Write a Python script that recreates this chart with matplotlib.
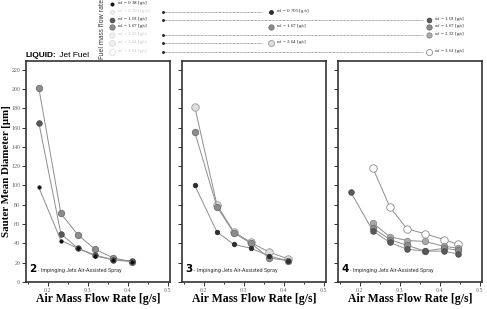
"""Sauter mean diameter vs air mass flow rate, three impinging-jet configurations."""

import numpy as np
import matplotlib

matplotlib.use("Agg")
from matplotlib import pyplot as plt  # noqa: E402
from matplotlib.ticker import MultipleLocator  # noqa: E402

plt.rcParams["mathtext.fontset"] = "stix"

# air mass flow rates [g/s]
x_air = [0.178, 0.233, 0.275, 0.318, 0.363, 0.41]
x_air_4 = [0.178, 0.233, 0.275, 0.318, 0.363, 0.41, 0.445]

# panel "2": SMD [um] per fuel flow rate
p2_m038 = [98, 43, 35, 27, 23, 21]
p2_m103 = [165, 50, 35, 28, 23, 22]
p2_m167 = [201, 71, 49, 34, 25, 21]

# panel "3"
p3_m0705 = [100, 52, 39, 35, 27, 22]
p3_m167 = [155, 78, 51, 40, 25, 22]
p3_m264 = [181, 80, 52, 41, 31, 24]

# panel "4" (nan = not measured)
p4_m103 = [93, 53, 41, 34, 32, 32, 29]
p4_m167 = [np.nan, 56, 44, 38, 32, 35, 33]
p4_m232 = [np.nan, 61, 47, 43, 42, 37, 35]
p4_m361 = [np.nan, 118, 78, 55, 50, 44, 39]

fuel_rates = ["0.38", "0.705", "1.03", "1.67", "2.32", "2.64", "3.61"]
panel_numbers = ["2", "3", "4"]

# marker style per fuel flow rate: face, edge, size
STYLE = {
    "0.38": ("#111111", "#111111", 2.4),
    "0.705": ("#2e2e2e", "#2e2e2e", 3.2),
    "1.03": ("#5a5a5a", "#4a4a4a", 4.0),
    "1.67": ("#8c8c8c", "#6e6e6e", 4.6),
    "2.32": ("#aaaaaa", "#8a8a8a", 4.6),
    "2.64": ("#dedede", "#9a9a9a", 5.4),
    "3.61": ("#ffffff", "#8a8a8a", 5.4),
}
LINE = "#8e8e8e"

panels = [
    (x_air, [("1.67", p2_m167), ("1.03", p2_m103), ("0.38", p2_m038)]),
    (x_air, [("2.64", p3_m264), ("1.67", p3_m167), ("0.705", p3_m0705)]),
    (x_air_4, [("3.61", p4_m361), ("2.32", p4_m232), ("1.67", p4_m167), ("1.03", p4_m103)]),
]

W, H = 487, 309
fig = plt.figure(figsize=(W / 100, H / 100), dpi=100)

lefts = [26, 182, 338]
for i, (left, (xs, series)) in enumerate(zip(lefts, panels)):
    ax = fig.add_axes([left / W, 1 - 282 / H, 144 / W, (282 - 61) / H])
    for rate, ys in series:
        face, edge, ms = STYLE[rate]
        ys = np.array(ys, dtype=float)
        ok = ~np.isnan(ys)
        ax.plot(np.array(xs)[ok], ys[ok], color=LINE, lw=0.7, marker="o",
                ms=ms, mfc=face, mec=edge, mew=0.6, zorder=3)
    ax.set_xlim(0.146, 0.505)
    ax.set_ylim(0, 229)
    ax.xaxis.set_major_locator(MultipleLocator(0.1))
    ax.xaxis.set_minor_locator(MultipleLocator(0.05))
    ax.yaxis.set_major_locator(MultipleLocator(20))
    ax.tick_params(which="both", direction="out", color="#333333", width=0.7,
                   labelsize=4.3, labelcolor="#666666", pad=1.2)
    ax.tick_params(which="major", length=3)
    ax.tick_params(which="minor", length=1.5)
    for lab in ax.get_xticklabels() + ax.get_yticklabels():
        lab.set_fontfamily("Liberation Serif")
    if i > 0:
        ax.tick_params(axis="y", labelleft=False)
    for sp in ax.spines.values():
        sp.set_linewidth(1.2)
        sp.set_color("#333333")
    ax.set_xlabel("Air Mass Flow Rate [g/s]", fontfamily="Liberation Serif",
                  fontweight="bold", fontsize=8.5)
    ax.xaxis.set_label_coords(0.5, -0.05)
    ax.text(0.025, 0.035, panel_numbers[i], transform=ax.transAxes,
            fontsize=7.5, fontweight="bold", fontfamily="DejaVu Sans", va="bottom")
    ax.text(0.085, 0.04, "- Impinging Jets Air-Assisted Spray", transform=ax.transAxes,
            fontsize=3.9, fontfamily="Roboto", color="#333333", va="bottom")
    if i == 0:
        ax.set_ylabel("Sauter Mean Diameter [µm]", fontfamily="Liberation Serif",
                      fontweight="bold", fontsize=7.8)
        ax.yaxis.set_label_coords(-0.105, 0.5)

# legend drawn on an overlay in pixel units
ov = fig.add_axes([0, 0, 1, 1])
ov.set_xlim(0, W)
ov.set_ylim(H, 0)
ov.axis("off")


def entry(x, y, rate, faded=False):
    face, edge, ms = STYLE[rate]
    if faded:
        face, edge = ("#f0f0f0" if rate != "3.61" else "#ffffff"), "#dcdcdc"
    ov.plot([x], [y], marker="o", ms=0.7 * ms + 0.6, mfc=face, mec=edge, mew=0.6, ls="none")
    ov.text(x + 5, y, r"$\dot{m}_\mathrm{f}$ = " + rate + " [g/s]", fontsize=3.6,
            fontfamily="Liberation Serif", va="center",
            color="#c8c8c8" if faded else "#222222")


rows_y = [4, 11.5, 19.5, 26.5, 34.5, 43, 52]
active = {"0.38", "1.03", "1.67"}
for rate, y in zip(fuel_rates, rows_y):
    entry(112, y, rate, faded=rate not in active)

leaders = {"0.705": 262, "1.03": 423, "2.32": 423, "2.64": 262, "3.61": 423}
for rate, y in zip(fuel_rates, rows_y):
    if rate in leaders:
        ov.plot([163, leaders[rate]], [y, y], color="#555555", lw=0.5, ls=(0, (1, 1)))
        ov.plot([163], [y], marker="o", ms=1.2, color="#333333")

entry(271, 11.5, "0.705")
entry(271, 27, "1.67")
entry(271, 43, "2.64")
entry(429, 19.5, "1.03")
entry(429, 27, "1.67")
entry(429, 34.5, "2.32")
entry(429, 52, "3.61")

ov.text(102, 29, "Fuel mass flow rate", rotation=90, fontsize=4.8,
        fontfamily="Open Sans", va="center", ha="center", color="#222222")
liq = ov.text(26, 57, "LIQUID:", fontsize=6, fontweight="bold",
              fontfamily="Liberation Sans", va="baseline")
ov.annotate(" Jet Fuel", xy=(1, 0), xycoords=liq, fontsize=6,
            fontfamily="Liberation Sans", va="bottom")

fig.savefig("out.png", dpi=100)
